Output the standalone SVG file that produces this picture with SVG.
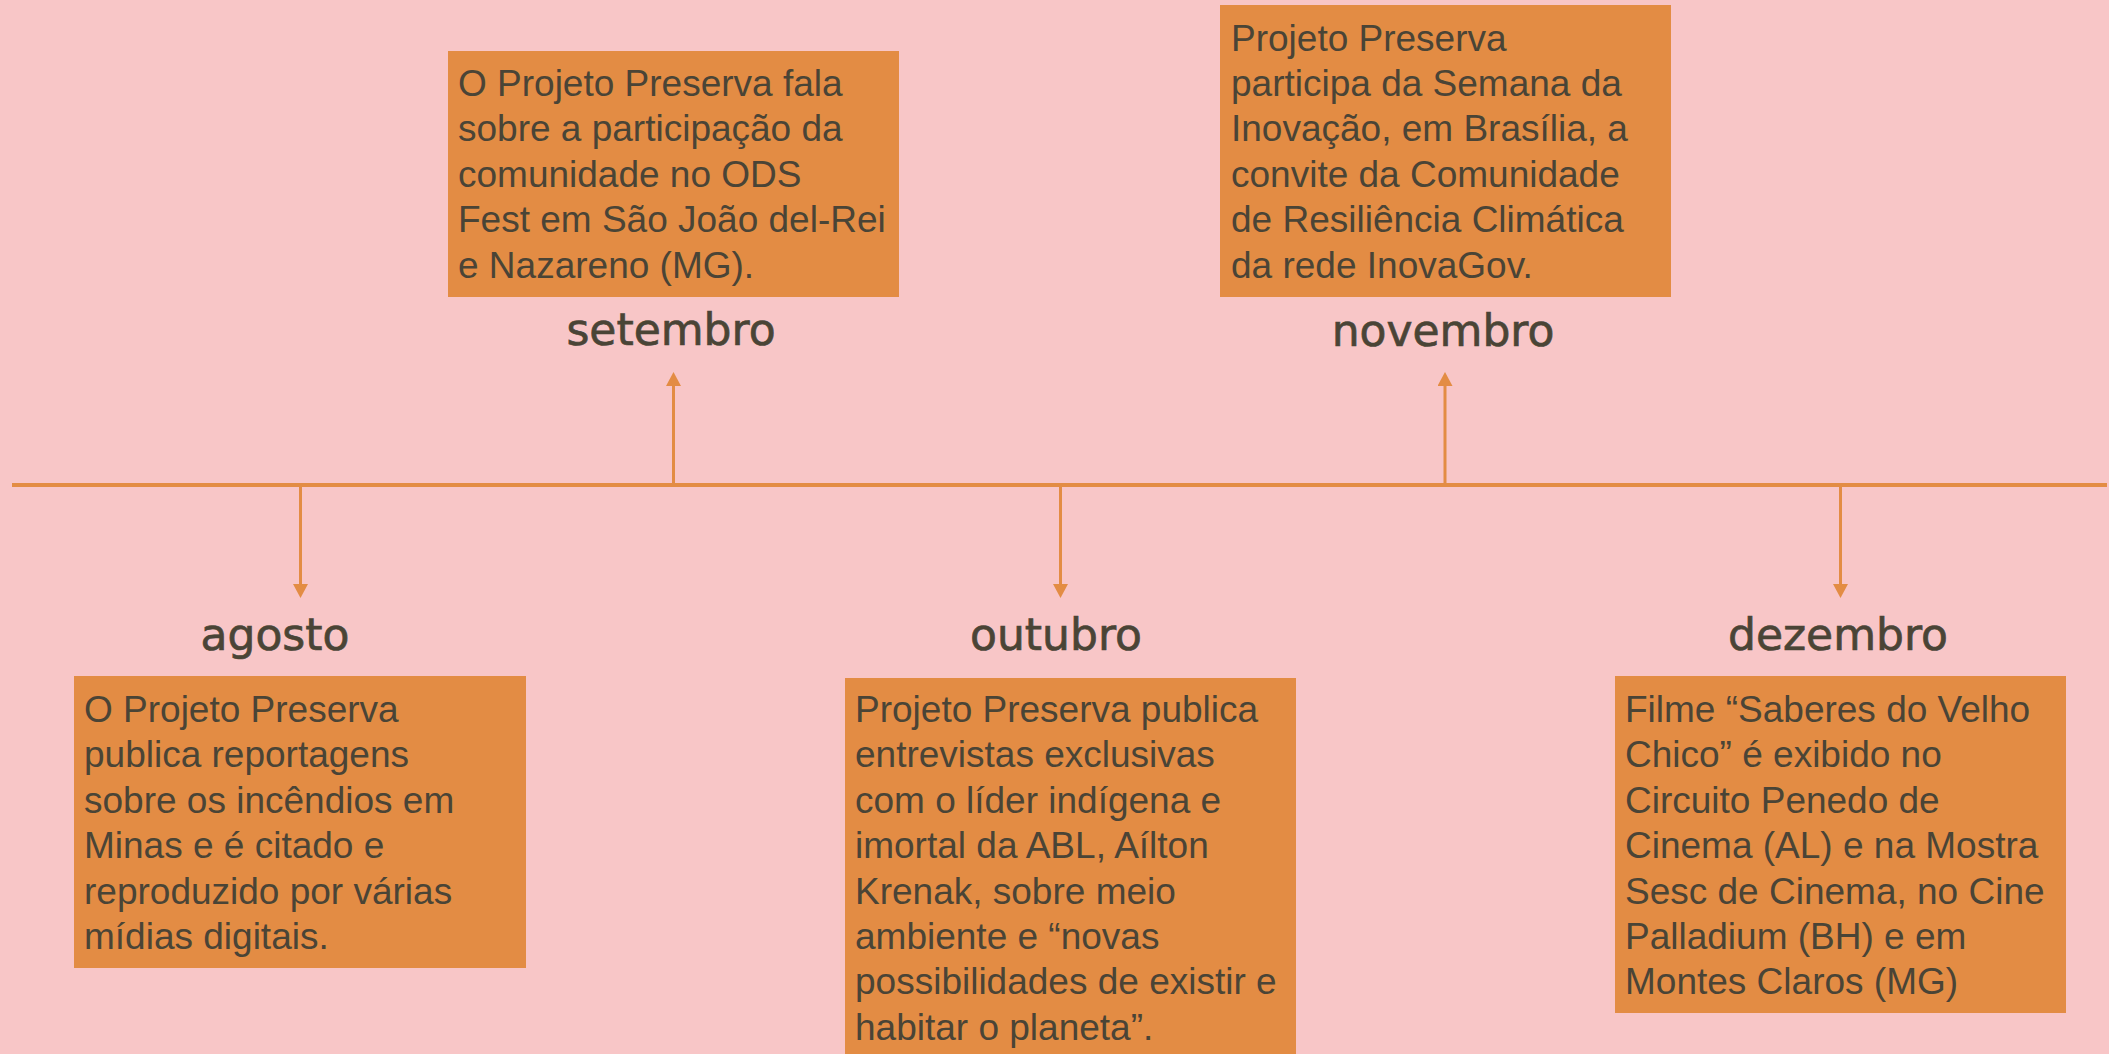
<svg xmlns="http://www.w3.org/2000/svg" width="2109" height="1054" viewBox="0 0 2109 1054">
<style>
.bg{fill:#f8c6c7}
.box{fill:#e38c44}
.body{font-family:"Liberation Sans",Arial,sans-serif;font-size:37px;fill:#4a4436}
.month{font-family:"DejaVu Sans","Liberation Sans",sans-serif;font-size:44px;fill:#4a4436;stroke:#4a4436;stroke-width:0.7;text-anchor:middle}
.conn{stroke:#e38c44;stroke-width:3;fill:none}
.axis{stroke:#e38c44;stroke-width:4;fill:none}
</style>
<defs>
<marker id="arr" viewBox="0 0 14 15" refX="0" refY="7.5" markerWidth="14" markerHeight="15" markerUnits="userSpaceOnUse" orient="auto">
<path d="M0,0 L14,7.5 L0,15 z" fill="#e38c44"/>
</marker>
</defs>
<rect class="bg" x="0" y="0" width="2109" height="1054"/>

<g id="connectors">
<line class="axis" x1="12" y1="485" x2="2107" y2="485"/>
<line class="conn" x1="300.5" y1="485" x2="300.5" y2="584" marker-end="url(#arr)"/>
<line class="conn" x1="673.5" y1="485" x2="673.5" y2="386" marker-end="url(#arr)"/>
<line class="conn" x1="1060.5" y1="485" x2="1060.5" y2="584" marker-end="url(#arr)"/>
<line class="conn" x1="1445" y1="485" x2="1445" y2="386" marker-end="url(#arr)"/>
<line class="conn" x1="1840.5" y1="485" x2="1840.5" y2="584" marker-end="url(#arr)"/>
</g>

<g id="agosto">
<text class="month" x="275" y="650">agosto</text>
<rect class="box" x="74" y="676" width="452" height="292"/>
<text class="body">
<tspan x="84" y="722">O Projeto Preserva</tspan>
<tspan x="84" y="767.4">publica reportagens</tspan>
<tspan x="84" y="812.8">sobre os incêndios em</tspan>
<tspan x="84" y="858.2">Minas e é citado e</tspan>
<tspan x="84" y="903.6">reproduzido por várias</tspan>
<tspan x="84" y="949">mídias digitais.</tspan>
</text>
</g>

<g id="setembro">
<rect class="box" x="448" y="51" width="451" height="246"/>
<text class="body">
<tspan x="458" y="96">O Projeto Preserva fala</tspan>
<tspan x="458" y="141.4">sobre a participação da</tspan>
<tspan x="458" y="186.8">comunidade no ODS</tspan>
<tspan x="458" y="232.2">Fest em São João del-Rei</tspan>
<tspan x="458" y="277.6">e Nazareno (MG).</tspan>
</text>
<text class="month" x="671" y="345">setembro</text>
</g>

<g id="outubro">
<text class="month" x="1056" y="650">outubro</text>
<rect class="box" x="845" y="678" width="451" height="376"/>
<text class="body">
<tspan x="855" y="722">Projeto Preserva publica</tspan>
<tspan x="855" y="767.4">entrevistas exclusivas</tspan>
<tspan x="855" y="812.8">com o líder indígena e</tspan>
<tspan x="855" y="858.2">imortal da ABL, Aílton</tspan>
<tspan x="855" y="903.6">Krenak, sobre meio</tspan>
<tspan x="855" y="949">ambiente e “novas</tspan>
<tspan x="855" y="994.4">possibilidades de existir e</tspan>
<tspan x="855" y="1039.8">habitar o planeta”.</tspan>
</text>
</g>

<g id="novembro">
<rect class="box" x="1220" y="5" width="451" height="292"/>
<text class="body">
<tspan x="1231" y="50.6">Projeto Preserva</tspan>
<tspan x="1231" y="96">participa da Semana da</tspan>
<tspan x="1231" y="141.4">Inovação, em Brasília, a</tspan>
<tspan x="1231" y="186.8">convite da Comunidade</tspan>
<tspan x="1231" y="232.2">de Resiliência Climática</tspan>
<tspan x="1231" y="277.6">da rede InovaGov.</tspan>
</text>
<text class="month" x="1443" y="346">novembro</text>
</g>

<g id="dezembro">
<text class="month" x="1838" y="650">dezembro</text>
<rect class="box" x="1615" y="676" width="451" height="337"/>
<text class="body">
<tspan x="1625" y="722">Filme “Saberes do Velho</tspan>
<tspan x="1625" y="767.4">Chico” é exibido no</tspan>
<tspan x="1625" y="812.8">Circuito Penedo de</tspan>
<tspan x="1625" y="858.2">Cinema (AL) e na Mostra</tspan>
<tspan x="1625" y="903.6">Sesc de Cinema, no Cine</tspan>
<tspan x="1625" y="949">Palladium (BH) e em</tspan>
<tspan x="1625" y="994.4">Montes Claros (MG)</tspan>
</text>
</g>
</svg>
